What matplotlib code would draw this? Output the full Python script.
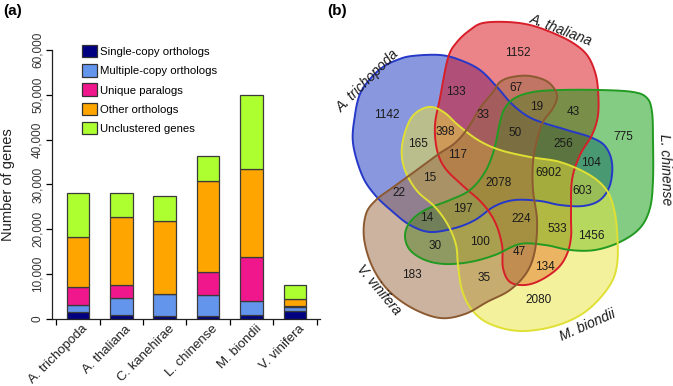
import numpy as np
import matplotlib
matplotlib.use("Agg")
import matplotlib.pyplot as plt
from matplotlib.patches import Polygon, Rectangle
import matplotlib.transforms as mtransforms

plt.rcParams['font.family'] = ['Liberation Sans', 'DejaVu Sans']

# ---------------- data: stacked bars ----------------
species = ["A. trichopoda", "A. thaliana", "C. kanehirae", "L. chinense", "M. biondii", "V. vinifera"]
single_copy = [1500, 800, 700, 700, 800, 1800]
multiple_copy = [1600, 3800, 4800, 4700, 3200, 900]
unique_paralogs = [4100, 2900, 100, 5000, 9800, 300]
other_orthologs = [11200, 15200, 16300, 20400, 19700, 1500]
unclustered = [9800, 5400, 5500, 5500, 16500, 3000]
series_names = ["Single-copy orthologs", "Multiple-copy orthologs", "Unique paralogs",
                "Other orthologs", "Unclustered genes"]
series_colors = ["#000080", "#6495ED", "#F0168C", "#FFA500", "#ADFF2F"]
yticks = [0, 10000, 20000, 30000, 40000, 50000, 60000]

# ---------------- data: Venn counts ----------------
set_names = ["A. thaliana", "L. chinense", "M. biondii", "V. vinifera", "A. trichopoda"]
venn_counts = [1152, 133, 67, 1142, 33, 19, 43, 398, 50, 775, 165, 256, 117, 104,
               6902, 15, 2078, 603, 22, 14, 197, 224, 533, 1456, 30, 100, 47, 134,
               183, 35, 2080]
# layout: label positions for the counts above (pixel space of the panel)
venn_label_pos = [(518, 53), (456, 92), (516, 88), (387, 115), (483, 115), (537, 107),
                  (573, 112), (445, 132), (515, 133), (623, 137), (418, 144), (563, 144),
                  (458, 155), (591, 163), (548, 173), (430, 178), (499, 183), (582, 191),
                  (399, 193), (427, 218), (463, 209), (521, 219), (557, 229), (591, 236),
                  (435, 246), (480, 242), (519, 252), (545, 267), (412, 275), (484, 278),
                  (539, 300)]

# layout: outlines of the five sets (control points, smoothed)
shape_red = [(448,58),(457,42),(470,30),(483,23),(507,22),(530,25),(553,33),(573,43),(587,55),
             (595,72),(598,90),(598,115),(592,135),(580,155),(572,180),(571,215),(571,237),
             (567,254),(558,268),(541,280),(525,285),(510,282),(503,268),(502,245),(495,222),
             (482,203),(462,185),(445,168),(437,150),(435,125),(440,98)]
shape_green = [(500,122),(505,108),(515,98),(533,92),(560,90),(600,90),(633,92),(647,98),
               (652,112),(653,140),(653,180),(650,208),(640,228),(620,242),(595,250),(570,250),
               (545,245),(520,244),(495,255),(470,262),(445,264),(425,260),(410,250),(405,236),
               (410,222),(425,210),(450,200),(470,190),(485,172),(494,150)]
shape_yellow = [(403,140),(410,120),(420,110),(432,107),(445,113),(458,125),(478,140),(500,150),
                (530,157),(560,162),(588,174),(605,188),(613,205),(617,230),(617,265),(608,288),
                (585,312),(555,326),(520,331),(490,324),(472,310),(462,290),(458,265),(456,245),
                (448,225),(435,207),(418,192),(407,175),(402,158)]
shape_brown = [(493,92),(500,82),(512,77),(530,76),(548,82),(557,95),(553,108),(543,122),
               (537,140),(533,162),(533,190),(537,220),(535,250),(527,272),(510,290),(487,302),
               (465,314),(440,318),(412,308),(388,290),(372,266),(364,238),(366,214),(376,200),
               (392,188),(410,175),(425,164),(440,153),(455,143),(468,128),(480,108)]
shape_blue = [(353,143),(355,115),(360,94),(370,79),(383,67),(397,60),(412,56),(440,55),
              (460,60),(480,70),(497,87),(513,105),(533,119),(567,130),(590,137),(605,146),
              (612,163),(610,185),(600,200),(583,206),(560,205),(540,201),(515,200),(495,206),
              (475,220),(455,228),(430,232),(410,225),(393,212),(375,195),(362,175)]
shapes = [shape_red, shape_green, shape_yellow, shape_brown, shape_blue]
face_colors = ["#D70A14", "#0A9A0A", "#EAE43C", "#9A6841", "#1432BE"]
edge_colors = ["#D81E28", "#229A22", "#E0E034", "#8C5A30", "#2638C8"]
set_label_pos = [(561, 30, -21), (665, 170, -88), (588, 325, 24), (379, 290, -50), (368, 81, 45)]


def smooth_closed(pts, n=16):
    P = np.asarray(pts, float)
    N = len(P)
    t = np.linspace(0, 1, n, endpoint=False)[:, None]
    segs = []
    for i in range(N):
        p0, p1, p2, p3 = P[(i - 1) % N], P[i], P[(i + 1) % N], P[(i + 2) % N]
        segs.append(0.5 * (2 * p1 + (-p0 + p2) * t + (2 * p0 - 5 * p1 + 4 * p2 - p3) * t ** 2
                           + (-p0 + 3 * p1 - 3 * p2 + p3) * t ** 3))
    return np.vstack(segs)


W, H = 673, 386
fig = plt.figure(figsize=(W / 100, H / 100), dpi=100)

# ---------------- panel (a) ----------------
ax = fig.add_axes([52 / W, 1 - 319 / H, (320 - 52) / W, (319 - 50) / H])
x = np.arange(len(species))
bottom = np.zeros(len(species))
for vals, col, name in zip([single_copy, multiple_copy, unique_paralogs, other_orthologs, unclustered],
                           series_colors, series_names):
    ax.bar(x, vals, bottom=bottom, width=0.52, color=col, edgecolor="#3a3a3a", linewidth=0.9,
           label=name, zorder=2)
    bottom += np.array(vals)

ax.set_xlim(-0.6, 5.58)
ax.set_ylim(0, 60000)
ax.set_yticks(yticks)
ax.set_yticklabels([f"{v:,}" for v in yticks], rotation=90, va="center", fontsize=8.5, color="#333333")
ax.tick_params(axis="y", length=4, width=0.9, pad=2, direction="out")
ax.set_xticks(x)
ax.set_xticks(np.arange(-0.5, 6, 1), minor=True)
ax.tick_params(axis="x", which="major", length=0, pad=6)
ax.tick_params(axis="x", which="minor", length=4, width=0.9, direction="out")
offset = mtransforms.ScaledTranslation(8 / 100, 0, fig.dpi_scale_trans)
ax.set_xticklabels(species, rotation=45, ha="right", va="center", rotation_mode="anchor",
                   fontsize=9.5, color="#222222")
for lab in ax.get_xticklabels():
    lab.set_transform(lab.get_transform() + offset)
for s in ["top", "right"]:
    ax.spines[s].set_visible(False)
for s in ["left", "bottom"]:
    ax.spines[s].set_linewidth(0.9)
    ax.spines[s].set_color("#222222")
ax.set_ylabel("Number of genes", fontsize=10.5, labelpad=12, color="#222222")

handles = [Rectangle((0, 0), 1, 1, facecolor=c, edgecolor="#333333", linewidth=0.9) for c in series_colors]
fig.legend(handles, series_names, loc="upper left", bbox_to_anchor=(82 / W, 1 - 45 / H),
           frameon=False, fontsize=8.2, handlelength=1.3, handleheight=1.3, labelspacing=0.6,
           handletextpad=0.25, borderpad=0, borderaxespad=0)

fig.text(3 / W, 1 - 11 / H, "(a)", fontsize=11, fontweight="bold", va="center", ha="left")
fig.text(327 / W, 1 - 11 / H, "(b)", fontsize=11, fontweight="bold", va="center", ha="left")

# ---------------- panel (b) ----------------
vx0 = 330
axv = fig.add_axes([vx0 / W, 0, (W - vx0) / W, 1])
axv.set_xlim(vx0, W)
axv.set_ylim(H, 0)
axv.axis("off")
fill_order = [4, 0, 1, 2, 3]
for i in fill_order:
    pts = smooth_closed(shapes[i])
    axv.add_patch(Polygon(pts, closed=True, facecolor=face_colors[i], alpha=0.5, edgecolor="none"))
for i in fill_order:
    pts = smooth_closed(shapes[i])
    axv.add_patch(Polygon(pts, closed=True, facecolor="none", edgecolor=edge_colors[i], linewidth=1.4))
for c, (px, py) in zip(venn_counts, venn_label_pos):
    axv.text(px, py, str(c), ha="center", va="center", fontsize=8.5, color="#1a1a1a")
for name, (px, py, rot) in zip(set_names, set_label_pos):
    axv.text(px, py, name, ha="center", va="center", rotation=rot, fontsize=10,
             style="italic", color="#1a1a1a", rotation_mode="anchor")

fig.savefig("out.png", dpi=100)
